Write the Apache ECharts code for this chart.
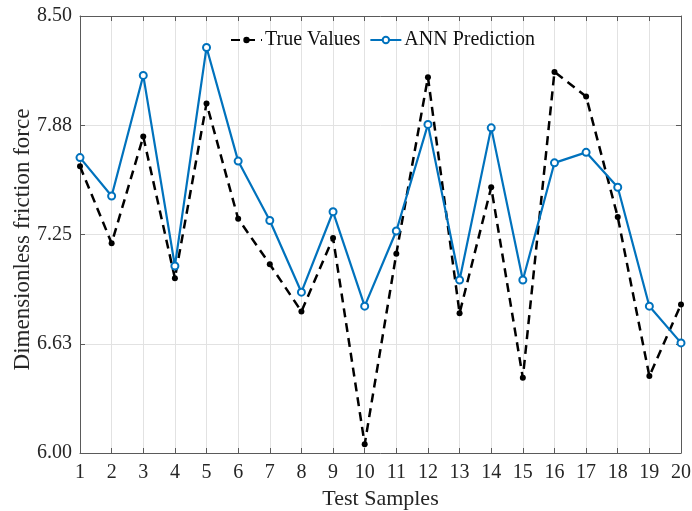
<!DOCTYPE html>
<html>
<head>
<meta charset="utf-8">
<script src="https://cdn.jsdelivr.net/npm/echarts@6/dist/echarts.min.js"></script>
<style>
  html, body { margin: 0; padding: 0; background: #fff; }
  #chart { width: 692px; height: 511px; }
</style>
</head>
<body>
<div id="chart"></div>
<script>
// Test sample indices
const samples = [1, 2, 3, 4, 5, 6, 7, 8, 9, 10, 11, 12, 13, 14, 15, 16, 17, 18, 19, 20];
// Measured dimensionless friction force
const trueValues = [7.64, 7.20, 7.81, 7.00, 8.00, 7.34, 7.08, 6.81, 7.23, 6.05,
                    7.14, 8.15, 6.80, 7.52, 6.43, 8.18, 8.04, 7.35, 6.44, 6.85];
// Network output for the same samples
const annPrediction = [7.69, 7.47, 8.16, 7.07, 8.32, 7.67, 7.33, 6.92, 7.38, 6.84,
                       7.27, 7.88, 6.99, 7.86, 6.99, 7.66, 7.72, 7.52, 6.84, 6.63];
// Y-axis tick labels (6.00 to 8.50 in steps of 0.625)
const yTickLabels = ['6.00', '6.63', '7.25', '7.88', '8.50'];
const yMin = 6, yMax = 8.5, yStep = 0.625;

const FONT = '"Liberation Serif", "Times New Roman", serif';
const TEXT = '#262626';
const AXIS = '#5a5a5a';
const GRIDC = '#e2e2e2';

const pairs = arr => samples.map((s, i) => [s, arr[i]]);

const chart = echarts.init(document.getElementById('chart'), null, { renderer: 'canvas' });

const option = {
  backgroundColor: '#ffffff',
  animation: false,
  textStyle: { fontFamily: FONT, color: TEXT },
  grid: {
    left: 80, right: 11, top: 16, bottom: 58,
    containLabel: false, outerBoundsMode: 'none'
  },
  legend: {
    top: 25,
    left: 225,
    itemWidth: 31,
    itemHeight: 8,
    itemGap: 9,
    textStyle: { fontFamily: FONT, fontSize: 20, color: '#111', padding: [0, 0, 0, -2] },
    data: ['True Values', 'ANN Prediction']
  },
  xAxis: [
    {
      type: 'value', min: 1, max: 20, interval: 1, position: 'bottom',
      name: 'Test Samples', nameLocation: 'middle', nameGap: 33,
      nameTextStyle: { fontFamily: FONT, fontSize: 22, color: TEXT },
      axisLine: { show: true, onZero: false, lineStyle: { color: AXIS, width: 1 } },
      axisTick: { show: true, inside: true, length: 5, lineStyle: { color: AXIS } },
      axisLabel: { fontFamily: FONT, fontSize: 20, color: TEXT, margin: 10 },
      splitLine: { show: true, lineStyle: { color: GRIDC, width: 1 } }
    },
    {
      type: 'value', min: 1, max: 20, interval: 1, position: 'top',
      axisLine: { show: true, onZero: false, lineStyle: { color: AXIS, width: 1 } },
      axisTick: { show: true, inside: true, length: 5, lineStyle: { color: AXIS } },
      axisLabel: { show: false },
      splitLine: { show: false }
    }
  ],
  yAxis: [
    {
      type: 'value', min: yMin, max: yMax, interval: yStep, position: 'left',
      name: 'Dimensionless friction force', nameLocation: 'middle', nameGap: 46,
      nameMoveOverlap: false,
      nameTextStyle: { fontFamily: FONT, fontSize: 23, color: TEXT, padding: [0, 10, 0, 0] },
      axisLine: { show: true, onZero: false, lineStyle: { color: AXIS, width: 1 } },
      axisTick: { show: true, inside: true, length: 5, lineStyle: { color: AXIS } },
      axisLabel: {
        fontFamily: FONT, fontSize: 20, color: TEXT, margin: 8,
        formatter: v => yTickLabels[Math.round((v - yMin) / yStep)]
      },
      splitLine: { show: true, lineStyle: { color: GRIDC, width: 1 } }
    },
    {
      type: 'value', min: yMin, max: yMax, interval: yStep, position: 'right',
      axisLine: { show: true, onZero: false, lineStyle: { color: AXIS, width: 1 } },
      axisTick: { show: true, inside: true, length: 5, lineStyle: { color: AXIS } },
      axisLabel: { show: false },
      splitLine: { show: false }
    }
  ],
  series: [
    {
      name: 'True Values',
      type: 'line',
      xAxisIndex: 0, yAxisIndex: 0,
      data: pairs(trueValues),
      symbol: 'circle',
      symbolSize: 6,
      itemStyle: { color: '#000000' },
      lineStyle: { color: '#000000', width: 2.5, type: [9, 6] },
      z: 2
    },
    {
      name: 'ANN Prediction',
      type: 'line',
      xAxisIndex: 0, yAxisIndex: 0,
      data: pairs(annPrediction),
      symbol: 'emptyCircle',
      symbolSize: 7,
      itemStyle: { color: '#0072BD', borderColor: '#0072BD', borderWidth: 2 },
      lineStyle: { color: '#0072BD', width: 2.2 },
      z: 3
    }
  ]
};

chart.setOption(option);
</script>
</body>
</html>
